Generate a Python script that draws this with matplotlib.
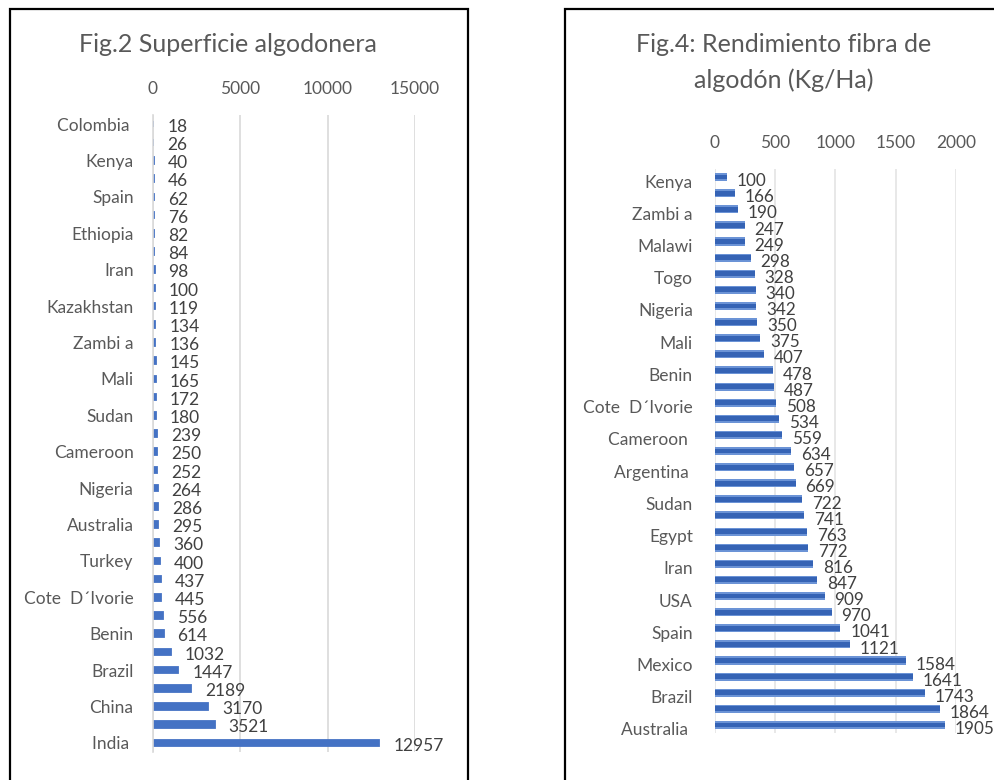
import matplotlib
matplotlib.use("Agg")
import matplotlib.pyplot as plt
import matplotlib.transforms as mtrans
from matplotlib.patches import Rectangle

plt.rcParams['font.family'] = ['Lato', 'DejaVu Sans']

# Fig.2 Superficie algodonera
sup_labels = ["Colombia ", "", "Kenya", "", "Spain", "", "Ethiopia", "", "Iran", "",
              "Kazakhstan", "", "Zambi a", "", "Mali", "", "Sudan", "", "Cameroon", "",
              "Nigeria", "", "Australia", "", "Turkey", "", "Cote  D\u00b4Ivorie", "",
              "Benin", "", "Brazil", "", "China", "", "India "]
sup_values = [18, 26, 40, 46, 62, 76, 82, 84, 98, 100, 119, 134, 136, 145, 165, 172, 180,
              239, 250, 252, 264, 286, 295, 360, 400, 437, 445, 556, 614, 1032, 1447,
              2189, 3170, 3521, 12957]
sup_ticks = [0, 5000, 10000, 15000]

# Fig.4 Rendimiento fibra de algodon
ren_labels = ["Kenya", "", "Zambi a", "", "Malawi", "", "Togo", "", "Nigeria", "",
              "Mali", "", "Benin", "", "Cote  D\u00b4Ivorie", "", "Cameroon ", "",
              "Argentina ", "", "Sudan", "", "Egypt", "", "Iran", "", "USA", "",
              "Spain", "", "Mexico", "", "Brazil", "", "Australia "]
ren_values = [100, 166, 190, 247, 249, 298, 328, 340, 342, 350, 375, 407, 478, 487, 508,
              534, 559, 634, 657, 669, 722, 741, 763, 772, 816, 847, 909, 970, 1041,
              1121, 1584, 1641, 1743, 1864, 1905]
ren_ticks = [0, 500, 1000, 1500, 2000]

W, H = 995, 780
fig = plt.figure(figsize=(W / 100, H / 100), dpi=100)

txt = '#595959'
lab = '#404040'

# boxes around the two charts
fig.add_artist(Rectangle((10 / W, -0.05), 458 / W, (H - 9) / H + 0.05, transform=fig.transFigure,
                         fill=False, ec='black', lw=1.6))
fig.add_artist(Rectangle((565 / W, -0.05), 0.6, (H - 9) / H + 0.05, transform=fig.transFigure,
                         fill=False, ec='black', lw=1.6))

# left chart
ax1 = fig.add_axes([153 / W, (H - 752) / H, 262 / W, (752 - 115) / H])
y1 = list(range(len(sup_values)))
ax1.barh(y1, sup_values, height=0.36, color='#4472C4', edgecolor='#4472C4', lw=1.3)
ax1.set_ylim(len(sup_values) - 0.5, -0.5)
ax1.set_xlim(0, 15000)
ax1.set_xticks(sup_ticks)
ax1.set_yticks(y1)
ax1.set_yticklabels(sup_labels)
ax1.xaxis.tick_top()
ax1.tick_params(axis='x', length=0, pad=13, labelsize=12.5, labelcolor=txt)
ax1.tick_params(axis='y', length=0, pad=14, labelsize=12.5, labelcolor=txt)
ax1.grid(axis='x', color='#D9D9D9', lw=1.2)
ax1.set_axisbelow(True)
for s in ['top', 'right', 'bottom']:
    ax1.spines[s].set_visible(False)
ax1.spines['left'].set_color('#D9D9D9')
ax1.spines['left'].set_linewidth(1.2)
for yy, v in zip(y1, sup_values):
    ax1.annotate(str(v), (v, yy), xytext=(10, -2), textcoords='offset points',
                 va='center', ha='left', fontsize=12.5, color=lab)
fig.text(228 / W, 1 - 45 / H, "Fig.2 Superficie algodonera", ha='center', va='center',
         fontsize=18, color=txt)

# right chart
ax2 = fig.add_axes([715 / W, (H - 733) / H, 241 / W, (733 - 169) / H])
y2 = list(range(len(ren_values)))
ax2.barh(y2, ren_values, height=0.5, color='#6B93D6')
ax2.barh(y2, ren_values, height=0.3, color='#3563B5')
ax2.set_ylim(len(ren_values) - 0.5, -0.5)
ax2.set_xlim(0, 2000)
ax2.set_xticks(ren_ticks)
ax2.set_yticks(y2)
ax2.set_yticklabels(ren_labels)
ax2.xaxis.tick_top()
ax2.tick_params(axis='x', length=0, pad=13, labelsize=12.5, labelcolor=txt)
ax2.tick_params(axis='y', length=0, pad=16, labelsize=12.5, labelcolor=txt)
shift = mtrans.ScaledTranslation(0, -4 / 100, fig.dpi_scale_trans)
for t in ax2.get_yticklabels():
    t.set_transform(t.get_transform() + shift)
ax2.grid(axis='x', color='#E4E4E4', lw=1.2)
ax2.set_axisbelow(True)
for s in ['top', 'right', 'bottom', 'left']:
    ax2.spines[s].set_visible(False)
for yy, v in zip(y2, ren_values):
    ax2.annotate(str(v), (v, yy), xytext=(7, -3), textcoords='offset points',
                 va='center', ha='left', fontsize=12.3, color=lab)
fig.text(784 / W, 1 - 45 / H, "Fig.4: Rendimiento fibra de", ha='center', va='center',
         fontsize=18, color=txt)
fig.text(784 / W, 1 - 80 / H, "algod\u00f3n (Kg/Ha)", ha='center', va='center',
         fontsize=18, color=txt)

fig.savefig("out.png", dpi=100)
